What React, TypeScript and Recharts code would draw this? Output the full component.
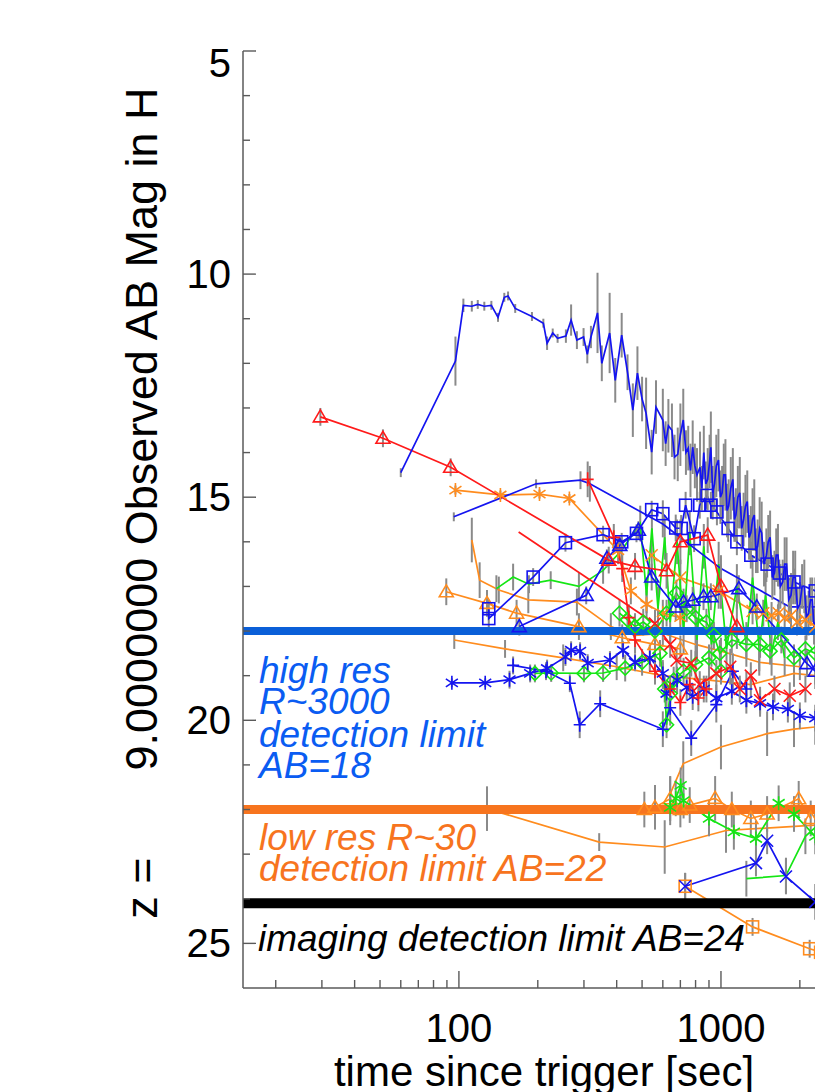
import React from "react";
import { ComposedChart, Line, XAxis, YAxis, ReferenceLine, ErrorBar } from "recharts";

// [time since trigger (s), AB mag in H, error]
type Pt = [number, number, number?];

const xTicks = [20, 30, 40, 50, 60, 70, 80, 90, 100, 200, 300, 400, 500, 600, 700, 800, 900, 1000, 2000, 3000];
const xLabels = [100, 1000];
const yTicks = [5, 6, 7, 8, 9, 10, 11, 12, 13, 14, 15, 16, 17, 18, 19, 20, 21, 22, 23, 24, 25];
const yLabels = [5, 10, 15, 20, 25];

const limits = { highRes: 18, lowRes: 22, imaging: 24.1 };

const grbBright: Pt[] = [
  [60, 14.45, 0.1], [97, 11.95, 0.55], [104, 10.7, 0.15], [112, 10.72, 0.12], [118, 10.68, 0.1], [125, 10.72, 0.1],
  [133, 10.7, 0.1], [141, 10.97, 0.1], [149, 10.52, 0.1], [154, 10.49, 0.1], [164, 10.77, 0.1], [190, 10.95, 0.1],
  [210, 11.1, 0.1], [217, 11.55, 0.15], [228, 11.32, 0.1], [238, 11.44, 0.1], [256, 11.39, 0.15], [268, 11.03, 0.35],
  [282, 11.48, 0.2], [299, 11.41, 0.2], [309, 11.8, 0.2], [319, 11.41, 0.25], [338, 10.87, 0.9], [351, 12.0, 0.4],
  [376, 11.32, 0.9], [395, 12.38, 0.5], [418, 11.37, 0.5], [440, 12.2, 0.4], [461, 13.05, 0.6], [480, 12.22, 0.6],
  [500, 12.8, 0.5], [518, 13.12, 0.8], [544, 13.99, 0.5], [565, 12.98, 0.6], [600, 13.27, 0.7], [615, 13.8, 0.5],
  [630, 13.4, 0.6], [650, 13.5, 0.6], [665, 14.1, 0.5], [684, 14.04, 0.6], [700, 13.6, 0.7], [718, 13.27, 0.7],
  [735, 14.0, 0.5], [750, 13.9, 0.5], [765, 14.4, 0.6], [780, 13.88, 0.6], [795, 14.3, 0.5], [810, 14.5, 0.6],
  [832, 14.33, 0.8], [845, 14.8, 0.5], [860, 14.0, 0.6], [875, 14.7, 0.5], [890, 14.6, 0.7], [905, 14.2, 0.6],
  [915, 13.88, 0.8], [930, 14.9, 0.6], [945, 14.7, 0.6], [960, 14.3, 0.7], [978, 14.17, 0.7], [995, 15.0, 0.6],
  [1010, 14.9, 0.6], [1025, 14.5, 0.7], [1040, 14.5, 0.8], [1055, 15.3, 0.6], [1070, 15.2, 0.6], [1090, 14.8, 0.7],
  [1110, 14.6, 0.7], [1125, 15.5, 0.5], [1140, 15.4, 0.6], [1160, 15.0, 0.7], [1180, 14.9, 0.8], [1200, 15.7, 0.5],
  [1220, 15.5, 0.6], [1240, 15.2, 0.7], [1260, 15.1, 0.7], [1280, 15.9, 0.5], [1300, 15.8, 0.6], [1320, 15.5, 0.7],
  [1340, 15.4, 0.8], [1360, 16.2, 0.5], [1380, 16.1, 0.6], [1405, 15.7, 0.7], [1430, 15.8, 0.7], [1460, 16.5, 0.5],
  [1490, 16.3, 0.6], [1515, 16.0, 0.6], [1540, 15.9, 0.6], [1570, 16.8, 0.5], [1600, 16.7, 0.5], [1625, 16.3, 0.6],
  [1650, 16.3, 0.7], [1685, 17.0, 0.5], [1720, 16.9, 0.5], [1750, 16.5, 0.6], [1780, 16.5, 0.6], [1815, 17.3, 0.5],
  [1850, 17.2, 0.5], [1885, 16.8, 0.6], [1920, 16.8, 0.6], [1960, 17.5, 0.5], [2000, 17.4, 0.5], [2040, 17.0, 0.5],
  [2080, 17.0, 0.6], [2120, 17.7, 0.5], [2160, 17.6, 0.5], [2195, 17.3, 0.5], [2230, 17.3, 0.5], [2265, 17.9, 0.4],
  [2300, 17.8, 0.4],
];

const redTri: Pt[] = [
  [29.6, 13.2, 0.2], [51.3, 13.68, 0.2], [93, 14.33, 0.2], [373, 16.41, 0.3], [470, 16.55, 0.3],
  [620, 16.65, 0.4], [700, 16.0, 0.5], [890, 15.85, 0.4], [1000, 17.0, 0.5], [1150, 17.9, 0.5],
];
const redLong: Pt[] = [[169, 15.78], [560, 17.83, 0.3]];
const redX: Pt[] = [
  [560, 17.83, 0.3], [640, 18.3, 0.3], [677, 18.66, 0.3], [770, 18.72, 0.3], [830, 19.2, 0.3],
  [960, 18.95, 0.3], [1085, 18.8, 0.4], [1180, 19.3, 0.3], [1300, 19.0, 0.3], [1410, 19.55, 0.3],
  [1600, 19.3, 0.3], [1830, 19.45, 0.3], [2100, 19.3, 0.3],
];
const redSteep: Pt[] = [
  [310, 14.6, 0.4], [390, 15.9, 0.3], [420, 16.6, 0.3], [445, 17.7, 0.3], [470, 18.2, 0.3], [560, 18.9, 0.3],
  [640, 19.3, 0.3], [700, 19.6, 0.3], [760, 19.2, 0.3], [820, 19.5, 0.3], [880, 19.3, 0.3],
];

const orangeAstTop: Pt[] = [
  [97, 14.84, 0.1], [144, 14.95, 0.1], [203, 14.93, 0.1], [264, 15.03, 0.1], [405, 16.2, 0.3],
  [453, 17.1, 0.3], [520, 17.4, 0.3], [600, 17.6, 0.3], [700, 17.7, 0.3],
];
const orangeAstRow: Pt[] = [
  [544, 16.3, 0.3], [700, 16.8, 0.4], [980, 17.1, 0.4], [1320, 17.55, 0.3], [1450, 17.6, 0.3], [1560, 17.65, 0.3],
  [1660, 17.6, 0.3], [1750, 17.7, 0.3], [1850, 17.65, 0.3], [1950, 17.8, 0.3], [2100, 17.75, 0.3], [2290, 17.9, 0.3],
];
const orangeTri: Pt[] = [
  [89.5, 17.12, 0.3], [128, 17.38, 0.3], [166, 17.6, 0.3], [287, 17.9, 0.3], [420, 18.15, 0.3], [560, 18.3, 0.3], [700, 18.4, 0.3],
];
const orangeMid: Pt[] = [
  [112, 15.96, 0.5], [120, 16.86, 0.4], [142, 17.08, 0.3], [184, 17.3, 0.3], [282, 17.35, 0.3], [380, 17.9, 0.3],
  [470, 18.1, 0.3], [600, 18.05, 0.3], [800, 18.3, 0.3], [1000, 18.45, 0.3], [1400, 18.7, 0.3], [2000, 18.8, 0.3],
];
const orangeLow: Pt[] = [
  [96, 18.2, 0.2], [150, 18.4, 0.2], [250, 18.6, 0.3], [400, 18.8, 0.3], [600, 19.0, 0.3], [900, 19.1, 0.3],
  [1300, 19.2, 0.3], [1900, 18.95, 0.3], [2290, 19.0, 0.3],
];
const orangeRise: Pt[] = [
  [640, 21.65, 0.4], [718, 20.97, 0.5], [1000, 20.6, 0.5], [1500, 20.3, 0.5], [1900, 20.2, 0.4], [2290, 20.15, 0.4],
];
const orangeTri22: Pt[] = [
  [510, 22.0, 0.4], [560, 21.95, 0.5], [640, 21.76, 0.5], [700, 22.0, 0.4], [760, 21.9, 0.4], [950, 21.75, 0.5],
  [1100, 22.0, 0.4], [1300, 22.2, 0.4], [1500, 22.1, 0.4], [1980, 21.76, 0.4], [2200, 22.2, 0.4],
];
const orangeThin: Pt[] = [
  [15, 22.0], [128, 21.98, 0.5], [343, 22.73, 0.2], [610, 22.84, 0.6], [1045, 22.47, 0.5], [2290, 22.35, 0.4],
];
const orangeSq: Pt[] = [[730, 23.72, 0.3], [1320, 24.63, 0.2], [2180, 25.12, 0.2], [2400, 25.2, 0.2]];

const blueSq: Pt[] = [
  [130, 17.5, 0.2], [130, 17.72, 0.2], [192, 16.79, 0.2], [255, 16.02, 0.2], [355, 15.84, 0.2], [418, 16.0, 0.2],
  [476, 15.81, 0.2], [544, 15.28, 0.2], [600, 15.37, 0.3], [672, 15.69, 0.3], [705, 15.7, 0.3], [733, 15.18, 0.3],
  [790, 15.93, 0.3], [830, 15.18, 0.3], [885, 14.96, 0.3], [915, 15.18, 0.3], [965, 15.33, 0.3], [1065, 15.7, 0.3],
  [1150, 16.0, 0.3], [1300, 16.3, 0.3], [1500, 16.5, 0.3], [1670, 16.7, 0.3], [1900, 16.9, 0.3], [2290, 17.1, 0.3],
];
const blueLine: Pt[] = [
  [95.6, 15.44, 0.1], [197, 14.7, 0.1], [291, 14.62, 0.2], [316, 14.7, 0.4], [600, 15.6, 0.3], [1000, 16.6, 0.3],
  [1830, 17.46, 0.3], [2290, 17.46, 0.3],
];
const blueTri: Pt[] = [
  [170, 17.9, 0.2], [306, 17.2, 0.2], [367, 16.37, 0.2], [411, 16.08, 0.2], [484, 15.74, 0.2], [544, 16.79, 0.3],
  [672, 17.46, 0.3], [720, 17.35, 0.3], [780, 17.31, 0.3], [858, 17.23, 0.3], [915, 17.23, 0.3], [1170, 17.05, 0.3],
  [1370, 17.46, 0.3], [2130, 18.73, 0.3], [2290, 18.9, 0.3],
];
const blueAst: Pt[] = [
  [94, 19.16, 0.1], [126, 19.16, 0.1], [156, 19.09, 0.2], [187, 18.95, 0.2], [217, 18.84, 0.2], [255, 18.58, 0.2],
  [268, 18.43, 0.2], [290, 18.45, 0.2], [310, 18.72, 0.2], [377, 18.65, 0.2], [423, 18.43, 0.2], [470, 18.7, 0.2],
  [535, 18.6, 0.3], [600, 18.95, 0.3], [620, 19.4, 0.3], [680, 19.1, 0.3], [740, 19.26, 0.3], [780, 19.47, 0.3],
  [860, 19.3, 0.3], [960, 19.5, 0.3], [1100, 19.35, 0.3], [1250, 19.55, 0.3], [1410, 19.62, 0.3], [1580, 19.7, 0.3],
  [1800, 19.75, 0.3], [2000, 19.9, 0.3], [2290, 19.95, 0.3],
];
const bluePlus: Pt[] = [
  [161, 18.77, 0.2], [215, 18.9, 0.2], [265, 19.17, 0.2], [289, 20.1, 0.3], [346, 19.63, 0.3], [600, 20.2, 0.4],
  [640, 19.72, 0.4], [770, 20.4, 0.4], [960, 19.65, 0.4], [1110, 18.9, 0.4], [1250, 19.3, 0.4],
];
const blueX: Pt[] = [[730, 23.72, 0.3], [1360, 23.2, 0.3], [1500, 22.7, 0.3], [1770, 23.5, 0.4], [2290, 24.07, 0.4]];

const greenZig: Pt[] = [
  [139, 17.05, 0.3], [161, 16.79, 0.3], [185, 16.95, 0.2], [224, 16.86, 0.2], [287, 17.0, 0.3], [355, 16.64, 0.3],
  [418, 16.19, 0.3], [492, 15.59, 0.4], [520, 17.2, 0.4], [545, 15.7, 0.4], [575, 17.5, 0.5], [610, 15.9, 0.5],
  [640, 17.8, 0.5], [680, 16.0, 0.5], [720, 18.0, 0.5], [760, 15.8, 0.5], [810, 18.2, 0.5], [860, 16.1, 0.5],
  [920, 18.3, 0.5], [980, 16.5, 0.5], [1050, 18.4, 0.5], [1150, 17.0, 0.5], [1250, 18.3, 0.5], [1320, 16.8, 0.5],
  [1400, 18.4, 0.5], [1480, 17.2, 0.5], [1560, 18.5, 0.5], [1650, 17.8, 0.4], [1750, 18.6, 0.4],
];
const greenDia: Pt[] = [
  [410, 17.6, 0.3], [440, 17.75, 0.3], [470, 17.9, 0.3], [505, 17.8, 0.3], [560, 18.0, 0.3], [620, 17.6, 0.3],
  [676, 17.15, 0.3], [740, 17.5, 0.3], [800, 17.7, 0.3], [880, 17.8, 0.3], [940, 18.1, 0.3], [990, 18.5, 0.3],
  [1100, 18.2, 0.3], [1250, 18.3, 0.3], [1410, 18.3, 0.3], [1540, 18.45, 0.3], [1700, 18.2, 0.3], [1900, 18.6, 0.3],
  [2100, 18.4, 0.3], [2290, 18.5, 0.3],
];
const greenMid: Pt[] = [
  [195, 18.95, 0.2], [225, 18.94, 0.2], [300, 18.95, 0.2], [355, 18.94, 0.2], [431, 18.83, 0.3], [500, 18.7, 0.3],
  [585, 18.5, 0.3], [610, 19.3, 0.3], [620, 20.1, 0.3], [640, 19.4, 0.3], [660, 19.1, 0.3], [720, 18.9, 0.3],
  [800, 18.75, 0.3], [900, 18.6, 0.3], [1000, 18.9, 0.3],
];
const greenLow: Pt[] = [
  [640, 21.95, 0.4], [672, 21.75, 0.4], [702, 21.46, 0.4], [720, 21.8, 0.4], [900, 22.2, 0.4], [1120, 22.5, 0.4],
  [1360, 22.65, 0.4], [1660, 21.86, 0.4], [1900, 22.1, 0.4], [2290, 22.6, 0.4],
];
const greenLine: Pt[] = [[1250, 23.55, 0.4], [1770, 23.48, 0.4], [2100, 22.6, 0.4], [2290, 22.4, 0.4]];

const BLUE = "#1414f0";
const RED = "#ff1a1a";
const GREEN = "#14e614";
const ORANGE = "#ff8c1e";

type Shape = "tri" | "sq" | "dia" | "ast" | "plus" | "x" | null;

const series: { id: string; pts: Pt[]; color: string; shape: Shape }[] = [
  { id: "orangeLow", pts: orangeLow, color: ORANGE, shape: null },
  { id: "orangeMid", pts: orangeMid, color: ORANGE, shape: null },
  { id: "orangeTri", pts: orangeTri, color: ORANGE, shape: "tri" },
  { id: "orangeAstTop", pts: orangeAstTop, color: ORANGE, shape: "ast" },
  { id: "orangeAstRow", pts: orangeAstRow, color: ORANGE, shape: "x" },
  { id: "orangeRise", pts: orangeRise, color: ORANGE, shape: null },
  { id: "orangeTri22", pts: orangeTri22, color: ORANGE, shape: "tri" },
  { id: "orangeThin", pts: orangeThin, color: ORANGE, shape: null },
  { id: "orangeSq", pts: orangeSq, color: ORANGE, shape: "sq" },
  { id: "greenZig", pts: greenZig, color: GREEN, shape: null },
  { id: "greenDia", pts: greenDia, color: GREEN, shape: "dia" },
  { id: "greenMid", pts: greenMid, color: GREEN, shape: "dia" },
  { id: "greenLow", pts: greenLow, color: GREEN, shape: "ast" },
  { id: "greenLine", pts: greenLine, color: GREEN, shape: null },
  { id: "blueAst", pts: blueAst, color: BLUE, shape: "ast" },
  { id: "bluePlus", pts: bluePlus, color: BLUE, shape: "plus" },
  { id: "blueX", pts: blueX, color: BLUE, shape: "x" },
  { id: "blueTri", pts: blueTri, color: BLUE, shape: "tri" },
  { id: "blueSq", pts: blueSq, color: BLUE, shape: "sq" },
  { id: "blueLine", pts: blueLine, color: BLUE, shape: null },
  { id: "redSteep", pts: redSteep, color: RED, shape: "plus" },
  { id: "redLong", pts: redLong, color: RED, shape: null },
  { id: "redX", pts: redX, color: RED, shape: "x" },
  { id: "redTri", pts: redTri, color: RED, shape: "tri" },
  { id: "grbBright", pts: grbBright, color: BLUE, shape: null },
];

const rows = (pts: Pt[]) => pts.map(([t, m, e]) => ({ t, m, e: e ?? 0 }));

const FONT = "'Liberation Sans', Arial, Helvetica, sans-serif";
const AXIS = "#5a5a5a";

function Marker({ cx, cy, shape, color }: { cx?: number; cy?: number; shape: Shape; color: string }) {
  if (cx == null || cy == null || !shape) return null;
  const s = 6;
  const common = { fill: "none", stroke: color, strokeWidth: 1.6 };
  if (shape === "tri") return <path d={`M${cx},${cy - 7} L${cx + 7},${cy + 5} L${cx - 7},${cy + 5} Z`} {...common} />;
  if (shape === "sq") return <rect x={cx - s} y={cy - s} width={2 * s} height={2 * s} {...common} />;
  if (shape === "dia") return <path d={`M${cx},${cy - 7} L${cx + 7},${cy} L${cx},${cy + 7} L${cx - 7},${cy} Z`} {...common} />;
  if (shape === "plus") return <path d={`M${cx - s},${cy} H${cx + s} M${cx},${cy - s - 1} V${cy + s + 1}`} {...common} />;
  if (shape === "x") return <path d={`M${cx - s},${cy - s} L${cx + s},${cy + s} M${cx - s},${cy + s} L${cx + s},${cy - s}`} {...common} />;
  return (
    <path
      d={`M${cx},${cy - 7} V${cy + 7} M${cx - 6},${cy - 4} L${cx + 6},${cy + 4} M${cx - 6},${cy + 4} L${cx + 6},${cy - 4}`}
      {...common}
    />
  );
}

const BottomTick = (p: any) => {
  const { x, y, payload } = p;
  const major = xLabels.includes(payload.value);
  return (
    <g>
      <line x1={x} x2={x} y1={y} y2={y - (major ? 17 : 8)} stroke={AXIS} strokeWidth={1.4} />
      {major && (
        <text x={x} y={y + 54} textAnchor="middle" fontSize={40} fontFamily={FONT} fill="#000">
          {payload.value}
        </text>
      )}
    </g>
  );
};

const TopTick = (p: any) => {
  const { x, y, payload } = p;
  const major = xLabels.includes(payload.value);
  return <line x1={x} x2={x} y1={y} y2={y + (major ? 17 : 8)} stroke={AXIS} strokeWidth={1.4} />;
};

const LeftTick = (p: any) => {
  const { x, y, payload } = p;
  const major = yLabels.includes(payload.value);
  const ly = Math.max(y, 55);
  return (
    <g>
      <line x1={x} x2={x + (major ? 13 : 7)} y1={y} y2={y} stroke={AXIS} strokeWidth={1.4} />
      {major && (
        <text x={x - 12} y={ly} textAnchor="end" dominantBaseline="central" fontSize={40} fontFamily={FONT} fill="#000">
          {payload.value}
        </text>
      )}
    </g>
  );
};

export default function App() {
  return (
    <div style={{ position: "fixed", left: 0, top: 0, width: 815, height: 1092, overflow: "hidden", background: "#fff" }}>
      <div style={{ position: "absolute", left: 8, top: 8 }}>
        <ComposedChart width={850} height={1084} margin={{ top: 43, right: 12, bottom: 4, left: 0 }}>
          <XAxis
            dataKey="t"
            type="number"
            scale="log"
            domain={[15, 3000]}
            allowDataOverflow
            ticks={xTicks}
            interval={0}
            tickSize={0}
            tickMargin={0}
            tickLine={false}
            tick={BottomTick}
            height={100}
            axisLine={{ stroke: AXIS, strokeWidth: 1.5 }}
          />
          <XAxis
            xAxisId="top"
            orientation="top"
            dataKey="t"
            type="number"
            scale="log"
            domain={[15, 3000]}
            allowDataOverflow
            ticks={xTicks}
            interval={0}
            tickSize={0}
            tickMargin={0}
            tickLine={false}
            tick={TopTick}
            height={0}
            axisLine={{ stroke: AXIS, strokeWidth: 1.5 }}
          />
          <YAxis
            dataKey="m"
            type="number"
            reversed
            domain={[5, 26]}
            allowDataOverflow
            ticks={yTicks}
            interval={0}
            tickSize={0}
            tickMargin={0}
            tickLine={false}
            tick={LeftTick}
            width={235}
            axisLine={{ stroke: AXIS, strokeWidth: 1.5 }}
          />
          {series.map((s) => (
            <Line
              key={s.id}
              data={rows(s.pts)}
              dataKey="m"
              type="linear"
              stroke={s.color}
              strokeWidth={1.7}
              isAnimationActive={false}
              dot={s.shape ? (p: any) => <Marker key={`${s.id}-${p.index}`} cx={p.cx} cy={p.cy} shape={s.shape} color={s.color} /> : false}
              activeDot={false}
            >
              <ErrorBar dataKey="e" direction="y" width={0} stroke="#8a8a8a" strokeWidth={2} isAnimationActive={false} />
            </Line>
          ))}
          <ReferenceLine y={limits.highRes} stroke="#0a5fd8" strokeWidth={8} />
          <ReferenceLine y={limits.lowRes} stroke="#f7741e" strokeWidth={9} />
          <ReferenceLine y={limits.imaging} stroke="#000" strokeWidth={10} />
        </ComposedChart>
        <svg width={850} height={1084} style={{ position: "absolute", left: 0, top: 0, pointerEvents: "none" }} fontFamily={FONT}>
          <text x={149} y={421} transform="rotate(-90 149 421)" textAnchor="middle" fontSize={45} fill="#000">
            9.0000000 Observed AB Mag in H
          </text>
          <text x={149} y={880} transform="rotate(-90 149 880)" textAnchor="middle" fontSize={45} fill="#000">
            z =
          </text>
          <text x={536} y={1078} textAnchor="middle" fontSize={42} fill="#000">
            time since trigger [sec]
          </text>
          <g fontStyle="italic" fontSize={37} fill="#0a5cf2">
            <text x={251} y={675}>high res</text>
            <text x={251} y={706}>R~3000</text>
            <text x={251} y={739}>detection limit</text>
            <text x={251} y={770}>AB=18</text>
          </g>
          <g fontStyle="italic" fontSize={37} fill="#f7741e">
            <text x={251} y={842}>low res R~30</text>
            <text x={251} y={873}>detection limit AB=22</text>
          </g>
          <text x={250} y={943} fontStyle="italic" fontSize={37} fill="#000">
            imaging detection limit AB=24
          </text>
        </svg>
      </div>
    </div>
  );
}
